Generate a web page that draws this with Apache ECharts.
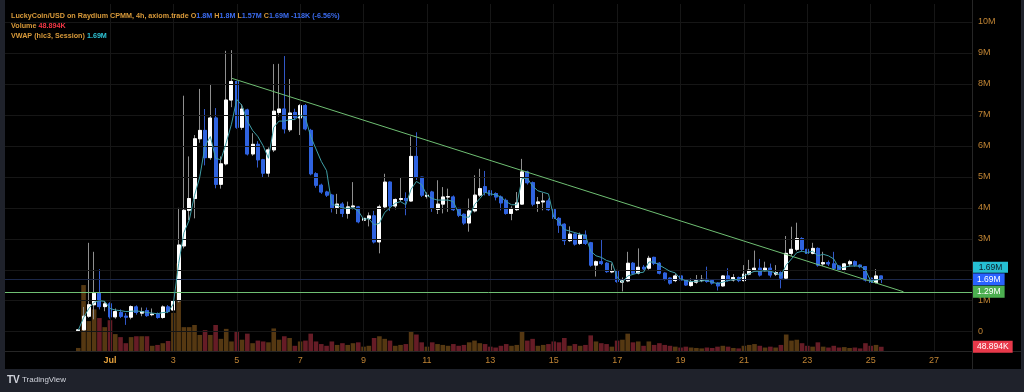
<!DOCTYPE html>
<html><head><meta charset="utf-8">
<script src="https://cdn.jsdelivr.net/npm/echarts@6/dist/echarts.min.js"></script>
<style>html,body{margin:0;padding:0;background:#1f222b;}#c{width:1024px;height:392px;}</style>
</head><body><div id="c"></div>
<script>
// 4h candles starting Jun 30 00:00, index 0
const open = [0.04,0.06,0.50,0.87,1.24,0.81,0.90,0.48,0.62,0.50,
0.47,0.80,0.60,0.68,0.55,0.57,0.46,0.80,0.70,1.00,
2.77,3.92,4.30,6.23,6.50,5.62,6.90,4.76,5.42,7.48,
8.08,6.60,7.16,5.74,6.05,5.55,5.12,5.87,7.08,7.19,
6.52,7.08,6.90,7.30,6.50,5.10,4.73,4.51,4.41,4.01,
4.12,3.82,4.03,4.03,3.60,3.66,3.74,2.90,4.03,4.83,
4.06,4.27,4.30,4.22,5.66,4.99,4.37,4.51,3.95,4.12,
4.35,4.35,3.98,3.79,3.51,3.90,4.41,4.68,4.55,4.46,
4.35,4.24,3.82,3.94,4.12,5.16,4.81,4.14,4.19,4.22,
3.94,3.66,3.47,2.94,3.15,2.85,3.12,2.87,2.15,2.26,
2.21,1.93,1.97,1.60,1.64,2.21,1.89,2.08,2.05,2.40,
2.21,1.89,1.73,1.65,1.80,1.67,1.49,1.60,1.65,1.69,
1.65,1.57,1.48,1.80,1.67,1.75,1.65,1.86,1.97,2.05,
1.97,2.05,1.86,1.91,1.73,2.53,2.66,3.01,2.66,2.53,
2.69,2.19,2.23,2.19,2.12,1.99,2.19,2.26,2.15,2.10,
1.73,1.59,1.80];
const high = [0.06,0.80,2.87,2.58,2.02,1.00,0.95,0.75,0.72,0.60,
0.85,0.85,0.78,0.78,0.75,0.62,0.85,0.86,1.10,4.00,
7.62,5.66,6.35,7.84,7.19,8.00,7.22,5.66,9.07,9.09,
8.10,7.35,7.20,6.41,6.15,5.58,5.95,8.64,8.65,8.90,
8.16,7.20,7.35,7.35,6.55,5.15,4.78,4.55,4.45,4.45,
4.18,4.20,4.83,4.06,3.80,3.85,3.90,4.10,5.10,4.85,
4.30,4.99,4.50,6.30,6.44,5.00,4.50,4.55,4.89,4.67,
4.62,4.40,4.00,3.82,4.30,5.05,5.26,5.19,4.60,4.50,
4.40,4.30,4.05,4.51,5.58,5.20,4.85,4.35,4.48,4.30,
3.98,3.70,3.50,3.40,3.18,3.20,3.27,2.90,2.30,2.96,
2.25,2.20,2.00,1.75,2.58,2.25,2.69,2.15,2.45,2.42,
2.25,1.92,1.75,1.88,1.82,1.70,1.72,1.83,1.83,2.10,
1.68,1.60,1.83,2.05,1.86,1.78,2.15,2.32,2.62,2.35,
2.26,2.20,2.15,1.95,3.09,3.39,3.52,3.05,2.70,2.87,
2.72,2.58,2.30,2.58,2.15,2.22,2.32,2.30,2.18,2.12,
1.75,2.02,1.80];
const low = [0.03,0.04,0.45,0.40,0.72,0.66,0.42,0.42,0.44,0.22,
0.40,0.55,0.50,0.48,0.50,0.42,0.42,0.60,0.62,0.95,
2.69,3.60,3.66,6.10,5.37,5.55,4.63,4.62,5.37,7.25,
6.55,6.52,5.69,5.68,5.30,4.99,5.00,5.80,6.95,6.40,
6.45,6.85,6.35,6.50,5.05,4.65,4.45,4.35,3.85,3.80,
3.70,3.65,3.95,3.50,3.45,3.40,2.85,2.53,3.95,3.90,
3.95,4.20,3.76,4.20,4.90,4.35,4.30,3.87,3.80,3.82,
3.87,3.90,3.70,3.45,3.23,3.85,4.35,4.40,4.35,4.24,
3.92,3.78,3.60,3.90,4.10,4.75,4.05,3.87,3.92,3.90,
3.49,3.19,2.80,2.90,2.78,2.80,2.80,2.10,1.78,2.15,
1.90,1.89,1.58,1.30,1.60,1.85,1.85,1.95,2.00,2.15,
1.85,1.65,1.52,1.60,1.62,1.48,1.45,1.55,1.60,1.58,
1.52,1.33,1.45,1.62,1.62,1.60,1.62,1.82,1.95,1.78,
1.95,1.75,1.80,1.40,1.70,2.45,2.60,2.60,2.45,2.50,
2.10,2.12,2.12,2.00,1.95,1.95,2.10,2.10,2.05,1.62,
1.55,1.56,1.57];
const close = [0.06,0.50,0.87,1.24,0.81,0.90,0.48,0.65,0.50,0.47,
0.81,0.62,0.65,0.52,0.57,0.46,0.80,0.65,1.00,2.80,
3.92,4.30,6.23,6.50,5.62,6.90,4.76,5.42,7.48,8.08,
6.60,7.19,5.74,6.05,5.55,5.12,5.87,7.12,7.19,6.55,
7.06,6.92,7.30,6.55,5.10,4.73,4.51,4.41,4.01,4.12,
3.82,4.03,4.06,3.55,3.66,3.74,2.90,4.03,4.83,4.06,
4.27,4.30,4.24,5.66,4.99,4.41,4.41,3.98,4.12,4.35,
4.36,3.94,3.76,3.51,3.90,4.41,4.62,4.50,4.41,4.35,
4.16,3.82,3.98,4.16,5.16,4.81,4.12,4.19,4.22,3.94,
3.66,3.44,2.94,3.15,2.83,3.12,2.85,2.15,2.26,2.20,
1.94,1.97,1.62,1.64,2.21,1.89,2.08,2.03,2.37,2.21,
1.89,1.69,1.57,1.80,1.67,1.51,1.60,1.65,1.69,1.62,
1.57,1.48,1.80,1.65,1.75,1.65,1.86,1.99,2.05,1.83,
2.05,1.83,1.91,1.73,2.53,2.66,3.01,2.66,2.53,2.69,
2.15,2.23,2.19,2.05,1.99,2.19,2.26,2.15,2.10,1.67,
1.59,1.80,1.69];
// volume in K
const volume = [35,760,345,480,380,275,355,195,160,90,
160,170,170,170,60,70,90,115,440,1010,
275,275,300,185,240,185,300,140,255,110,
230,130,200,90,120,110,100,260,130,170,
150,60,110,120,200,110,80,60,110,70,
90,70,90,100,50,60,150,170,140,120,
60,70,80,230,190,100,50,100,80,70,
60,80,60,70,100,120,90,80,50,40,
60,80,60,70,220,120,140,60,70,80,
110,100,150,60,80,60,70,180,110,90,
80,50,120,130,200,100,110,60,110,70,
90,70,60,50,40,50,40,35,30,40,
35,50,60,50,35,30,60,70,80,60,
40,50,40,70,190,120,130,90,60,50,
100,50,40,60,40,45,35,40,30,90,
60,70,48.894];
const vwap = [0.05,0.45,0.75,0.95,1.00,0.98,
0.75,0.70,0.68,0.65,0.66,0.67,
0.65,0.62,0.60,0.58,0.62,0.63,
0.90,2.20,3.20,3.60,4.40,5.00,
6.00,6.30,5.60,5.55,6.10,6.70,
7.50,7.30,6.80,6.50,6.30,6.00,
5.60,6.60,6.80,6.80,6.85,6.85,
7.00,6.90,6.30,5.90,5.50,5.20,
4.10,4.08,4.00,3.98,4.00,3.90,
3.63,3.65,3.45,3.50,3.85,4.00,
4.15,4.20,4.10,4.60,4.85,4.75,
4.40,4.30,4.25,4.25,4.25,4.20,
3.82,3.70,3.70,4.10,4.30,4.50,
4.45,4.42,4.35,4.20,4.10,4.10,
4.95,4.95,4.70,4.55,4.50,4.45,
3.70,3.55,3.30,3.25,3.20,3.15,
3.10,2.60,2.45,2.40,2.30,2.25,
1.75,1.60,1.80,1.85,1.90,1.92,
2.25,2.25,2.15,2.05,1.95,1.90,
1.70,1.65,1.62,1.63,1.64,1.66,
1.60,1.55,1.60,1.65,1.68,1.68,
1.80,1.88,1.95,1.95,1.97,1.95,
1.90,1.82,2.15,2.35,2.55,2.60,
2.55,2.60,2.45,2.50,2.45,2.35,
2.05,2.08,2.12,2.12,2.12,2.00,
1.63,1.67,1.69];
// day ticks, as candle indices (6 candles per day, index 0 = Jun 30)
const dayTickIndex = [6,18,30,42,54,66,78,90,102,114,126,138,150,162];
const dayTickLabels = ['Jul','3','5','7','9','11','13','15','17','19','21','23','25','27'];
const priceTicks = [0,1,2,3,4,5,6,7,8,9,10];
const supportLevel = 1.29;
const trendLine = [[29.1, 8.18], [156.2, 1.29]];
const headerTitle = 'LuckyCoin/USD on Raydium CPMM, 4h, axiom.trade';
const headerValues = ['1.8M','1.8M','1.57M','1.69M','-118K (-6.56%)'];

const FONT = 'Liberation Sans';
const ORANGE = '#d99a3a';
const AXIS_TXT = '#c08434';
const UP = '#ffffff', UP_WICK = '#8f8f8f';
const DOWN = '#2f63e0', DOWN_WICK = '#3158c8';
const GREEN = '#6fbf73';
const GRIDLINE = '#161616';

const N = close.length, last = N - 1;
const X0 = 20; // slot offset of candle 0 on the x axis
const fmtM = v => (+v.toFixed(2)) + 'M';
const fmtK = v => v.toFixed(3) + 'K';

const wickData = open.map((o, i) => [i + X0, o, close[i], low[i], high[i]]);
const bodyData = open.map((o, i) => [i + X0, o, close[i], Math.min(o, close[i]), Math.max(o, close[i])]);
const volData = volume.map((v, i) => ({value: [i + X0, v], itemStyle: {color: close[i] >= open[i] ? '#553812' : '#661c26'}}));
const vwapData = vwap.map((v, i) => [i + X0, v]);
const xTicks = dayTickIndex.map(v => v + X0);

const xMin = X0 - 13.87, xMax = X0 + 169.17;
const yMin = -0.623, yMax = 10.581;
const GRID = {left: 5, right: 52, top: 4, bottom: 41};

const chart = echarts.init(document.getElementById('c'), null, {renderer: 'canvas'});
const boxLabel = (bg, fg) => ({
  show: true, position: 'end', distance: 1, backgroundColor: bg, color: fg, opacity: 1,
  fontFamily: FONT, fontSize: 8.5, lineHeight: 9, padding: [2, 4, 1, 4]
});
const HF = 7.2;
chart.setOption({
  backgroundColor: '#1f222b',
  animation: false,
  textStyle: {fontFamily: FONT},
  graphic: [
    {type: 'rect', z: -100, silent: true, shape: {x: 5, y: 0, width: 1016, height: 369}, style: {fill: '#000000'}},
    {type: 'line', z: -50, silent: true, shape: {x1: 972.5, y1: 0, x2: 972.5, y2: 369}, style: {stroke: '#262626', lineWidth: 1}},
    {type: 'line', z: -50, silent: true, shape: {x1: 5, y1: 351.5, x2: 1021, y2: 351.5}, style: {stroke: '#262626', lineWidth: 1}},
    {type: 'text', left: 7, top: 375, silent: true, style: {text: 'TV', fill: '#d1d4dc', font: 'bold 10px ' + FONT}},
    {type: 'text', left: 22, top: 376, silent: true, style: {text: 'TradingView', fill: '#d1d4dc', font: '8px ' + FONT}}
  ],
  title: {
    left: 11, top: 11, padding: 0,
    text: '{t|' + headerTitle + '} {t|O}{v|' + headerValues[0] + '} {t|H}{v|' + headerValues[1] + '} {t|L}{v|' + headerValues[2] + '} {t|C}{v|' + headerValues[3] + '} {v|' + headerValues[4] + '}\n' +
          '{t|Volume} {r|' + fmtK(volume[last]) + '}\n' +
          '{t|VWAP (hlc3, Session)} {c|' + fmtM(vwap[last]) + '}',
    textStyle: {
      fontSize: HF, lineHeight: 10,
      rich: {
        t: {color: ORANGE, fontSize: HF, lineHeight: 10, fontFamily: FONT},
        v: {color: '#3b6cf0', fontSize: HF, lineHeight: 10, fontFamily: FONT},
        r: {color: '#f23645', fontSize: HF, lineHeight: 10, fontFamily: FONT},
        c: {color: '#2ec4d6', fontSize: HF, lineHeight: 10, fontFamily: FONT}
      }
    }
  },
  grid: [Object.assign({}, GRID), Object.assign({}, GRID)],
  xAxis: [{
    type: 'value', gridIndex: 0, min: xMin, max: xMax,
    axisLine: {show: false, onZero: false},
    axisTick: {show: false, customValues: xTicks},
    axisLabel: {
      customValues: xTicks, color: AXIS_TXT, fontSize: 9, margin: 5, fontFamily: FONT,
      formatter: v => { const k = xTicks.indexOf(v); const s = dayTickLabels[k]; return k === 0 ? '{m|' + s + '}' : s; },
      rich: {m: {color: '#e6a23c', fontWeight: 'bold', fontSize: 9, fontFamily: FONT}}
    },
    splitLine: {show: false}
  }, {
    type: 'value', gridIndex: 1, min: xMin, max: xMax, show: false, splitLine: {show: false}
  }],
  yAxis: [{
    type: 'value', gridIndex: 0, position: 'right', min: yMin, max: yMax,
    axisLine: {show: false, onZero: false},
    axisTick: {show: false, customValues: priceTicks},
    axisLabel: {customValues: priceTicks, color: AXIS_TXT, fontSize: 9, margin: 6, fontFamily: FONT,
      formatter: v => v === 0 ? '0' : v + 'M'},
    splitLine: {show: false}
  }, {
    type: 'value', gridIndex: 1, position: 'right', min: 0, max: 4000, show: false, splitLine: {show: false}
  }],
  series: [
    {
      type: 'line', name: 'grid', xAxisIndex: 0, yAxisIndex: 0, data: [], z: 0, silent: true,
      markLine: {silent: true, symbol: ['none', 'none'], animation: false, label: {show: false},
        lineStyle: {color: GRIDLINE, width: 1, type: 'solid'},
        data: xTicks.map(v => ({xAxis: v})).concat(priceTicks.map(v => ({yAxis: v})))}
    },
    {
      type: 'bar', name: 'Volume', xAxisIndex: 1, yAxisIndex: 1, data: volData, barWidth: 4.6, z: 1, clip: false,
      markLine: {silent: true, symbol: ['none', 'none'], animation: false,
        data: [{yAxis: volume[last], lineStyle: {color: 'rgba(0,0,0,0)', width: 1}, label: Object.assign(boxLabel('#e8394a', '#ffffff'), {formatter: fmtK(volume[last])})}]}
    },
    {
      type: 'candlestick', name: 'wick', xAxisIndex: 0, yAxisIndex: 0, data: wickData, encode: {x: 0, y: [1, 2, 3, 4]}, barWidth: 3.5, z: 3,
      itemStyle: {color: 'transparent', color0: 'transparent', borderColor: UP_WICK, borderColor0: DOWN_WICK, borderWidth: 1}
    },
    {
      type: 'candlestick', name: 'body', xAxisIndex: 0, yAxisIndex: 0, data: bodyData, encode: {x: 0, y: [1, 2, 3, 4]}, barWidth: 3.5, z: 4, clip: false,
      itemStyle: {color: UP, color0: DOWN, borderColor: UP, borderColor0: DOWN, borderWidth: 1},
      markLine: {silent: true, symbol: ['none', 'none'], animation: false,
        data: [
          {yAxis: close[last], lineStyle: {color: '#1b2748', width: 1, type: 'solid'}, label: Object.assign(boxLabel('#2962ff', '#ffffff'), {formatter: fmtM(close[last])})},
          {yAxis: supportLevel, lineStyle: {color: GREEN, width: 1, type: 'solid'}, label: Object.assign(boxLabel('#4caf50', '#ffffff'), {formatter: fmtM(supportLevel)})},
          [{coord: [trendLine[0][0] + X0, trendLine[0][1]], lineStyle: {color: GREEN, width: 1, type: 'solid'}, label: {show: false}}, {coord: [trendLine[1][0] + X0, trendLine[1][1]]}]
        ]}
    },
    {
      type: 'line', name: 'VWAP', xAxisIndex: 0, yAxisIndex: 0, data: vwapData, showSymbol: false, z: 5, clip: false,
      lineStyle: {color: '#3f9ea6', width: 1}, itemStyle: {color: '#3f9ea6'},
      markPoint: {silent: true, animation: false,
        data: [{coord: [xMax, vwap[last]], symbol: 'rect', symbolSize: [35, 11], symbolOffset: [18.5, -12],
          itemStyle: {color: '#26bfd3'},
          label: {show: true, position: 'inside', formatter: fmtM(vwap[last]), color: '#0f1d2a', fontSize: 8.5, fontFamily: FONT}}]}
    }
  ]
});
</script></body></html>
